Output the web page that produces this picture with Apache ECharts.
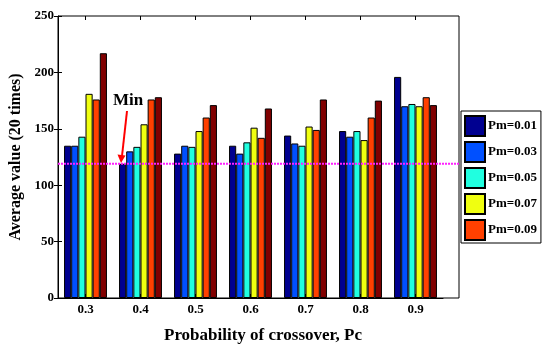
<!DOCTYPE html>
<html>
<head>
<meta charset="utf-8">
<script src="https://cdn.jsdelivr.net/npm/echarts@6/dist/echarts.min.js"></script>
<style>
  html, body { margin: 0; padding: 0; background: #fff; }
  #chart { width: 543px; height: 346px; }
</style>
</head>
<body>
<div id="chart"></div>
<script>
// Crossover probabilities (x categories)
const categories = ['0.3', '0.4', '0.5', '0.6', '0.7', '0.8', '0.9'];

// Average value over 20 runs for each mutation probability
const pm001 = [135, 119, 128, 135, 144, 148, 196];
const pm003 = [135, 130, 135, 128, 137, 143, 170];
const pm005 = [143, 134, 134, 138, 135, 148, 172];
const pm007 = [181, 154, 148, 151, 152, 140, 170];
const pm009 = [176, 176, 160, 142, 149, 160, 178];
const pm011 = [217, 178, 171, 168, 176, 175, 171];

const seriesNames = ['Pm=0.01', 'Pm=0.03', 'Pm=0.05', 'Pm=0.07', 'Pm=0.09', 'Pm=0.11'];
const seriesValues = [pm001, pm003, pm005, pm007, pm009, pm011];
const legendNames = seriesNames.slice(0, 5);

// Minimum average value (reference line)
const minValue = 119;

// Value axis ticks
const yTicks = [0, 50, 100, 150, 200, 250];

const colors = ['#000090', '#0050ff', '#20ffe0', '#f0ff10', '#ff4000', '#800000'];
const FONT = '"Liberation Serif", "Times New Roman", serif';

const chart = echarts.init(document.getElementById('chart'), null, { renderer: 'canvas' });

const bars = seriesValues.map((vals, i) => ({
  name: seriesNames[i],
  type: 'bar',
  xAxisIndex: 0,
  yAxisIndex: 0,
  data: vals,
  barGap: '0%',
  barCategoryGap: '22%',
  itemStyle: { color: colors[i], borderColor: '#000', borderWidth: 1 },
  emphasis: { disabled: true },
  animation: false
}));

const option = {
  backgroundColor: '#fff',
  animation: false,
  grid: [
    { left: 58, top: 16, width: 385, height: 282, containLabel: false, outerBoundsMode: 'none' },
    { left: 58, top: 16, width: 401, height: 282, containLabel: false, outerBoundsMode: 'none',
      show: true, borderColor: '#000', borderWidth: 1, backgroundColor: 'transparent' }
  ],
  xAxis: [
    {
      type: 'category', gridIndex: 0, position: 'bottom', data: categories,
      axisLine: { show: true, lineStyle: { color: '#000', width: 1 } },
      axisTick: { show: true, inside: true, alignWithLabel: true, length: 4, lineStyle: { color: '#000' } },
      axisLabel: { color: '#000', fontFamily: FONT, fontWeight: 'bold', fontSize: 13, margin: 5 },
      splitLine: { show: false }
    },
    {
      type: 'category', gridIndex: 0, position: 'top', data: categories,
      axisLine: { show: false },
      axisTick: { show: true, inside: true, alignWithLabel: true, length: 4, lineStyle: { color: '#000' } },
      axisLabel: { show: false },
      splitLine: { show: false }
    },
    { type: 'value', gridIndex: 1, min: 0, max: 1, show: false }
  ],
  yAxis: [
    {
      type: 'value', gridIndex: 0, position: 'left',
      min: yTicks[0], max: yTicks[yTicks.length - 1], interval: yTicks[1] - yTicks[0],
      axisLine: { show: true, lineStyle: { color: '#000', width: 1 } },
      axisTick: { show: true, inside: true, length: 4, lineStyle: { color: '#000' } },
      axisLabel: { color: '#000', fontFamily: FONT, fontWeight: 'bold', fontSize: 13, margin: 4 },
      splitLine: { show: false },
      name: 'Average value (20 times)',
      nameLocation: 'middle',
      nameGap: 34,
      nameTextStyle: { color: '#000', fontFamily: FONT, fontWeight: 'bold', fontSize: 16 }
    },
    {
      type: 'value', gridIndex: 1, position: 'right',
      min: yTicks[0], max: yTicks[yTicks.length - 1], interval: yTicks[1] - yTicks[0],
      axisLine: { show: false },
      axisTick: { show: true, inside: true, length: 4, lineStyle: { color: '#000' } },
      axisLabel: { show: false },
      splitLine: { show: false }
    }
  ],
  legend: {
    data: legendNames,
    orient: 'vertical',
    left: 461,
    top: 111,
    padding: [4, 4, 2, 3],
    itemWidth: 20,
    itemHeight: 20,
    itemGap: 4,
    icon: 'rect',
    borderColor: '#000',
    borderWidth: 1,
    borderRadius: 0,
    backgroundColor: '#fff',
    selectedMode: false,
    textStyle: { color: '#000', fontFamily: FONT, fontWeight: 'bold', fontSize: 13, padding: [0, 0, 0, -2] }
  },
  series: bars.concat([
    {
      name: 'min',
      type: 'line',
      xAxisIndex: 2,
      yAxisIndex: 1,
      data: [[0, minValue], [1, minValue]],
      symbol: 'none',
      z: 10,
      lineStyle: { color: '#ff20ff', width: 2, type: [2, 1] },
      emphasis: { disabled: true },
      silent: true
    }
  ]),
  graphic: [
    {
      type: 'text', left: 113, top: 92, z: 20,
      style: { text: 'Min', fill: '#000', font: 'bold 17px ' + FONT }
    },
    {
      type: 'line', z: 20,
      shape: { x1: 127, y1: 111, x2: 122, y2: 156 },
      style: { stroke: '#ff0000', lineWidth: 2 }
    },
    {
      type: 'polygon', z: 20,
      shape: { points: [[117.5, 154.5], [125.5, 155.5], [121, 163]] },
      style: { fill: '#ff0000' }
    },
    {
      type: 'text', x: 263, y: 336, z: 20,
      style: { text: 'Probability of crossover, Pc', fill: '#000', font: 'bold 17px ' + FONT,
               textAlign: 'center', textVerticalAlign: 'middle' }
    }
  ]
};

chart.setOption(option);
</script>
</body>
</html>
